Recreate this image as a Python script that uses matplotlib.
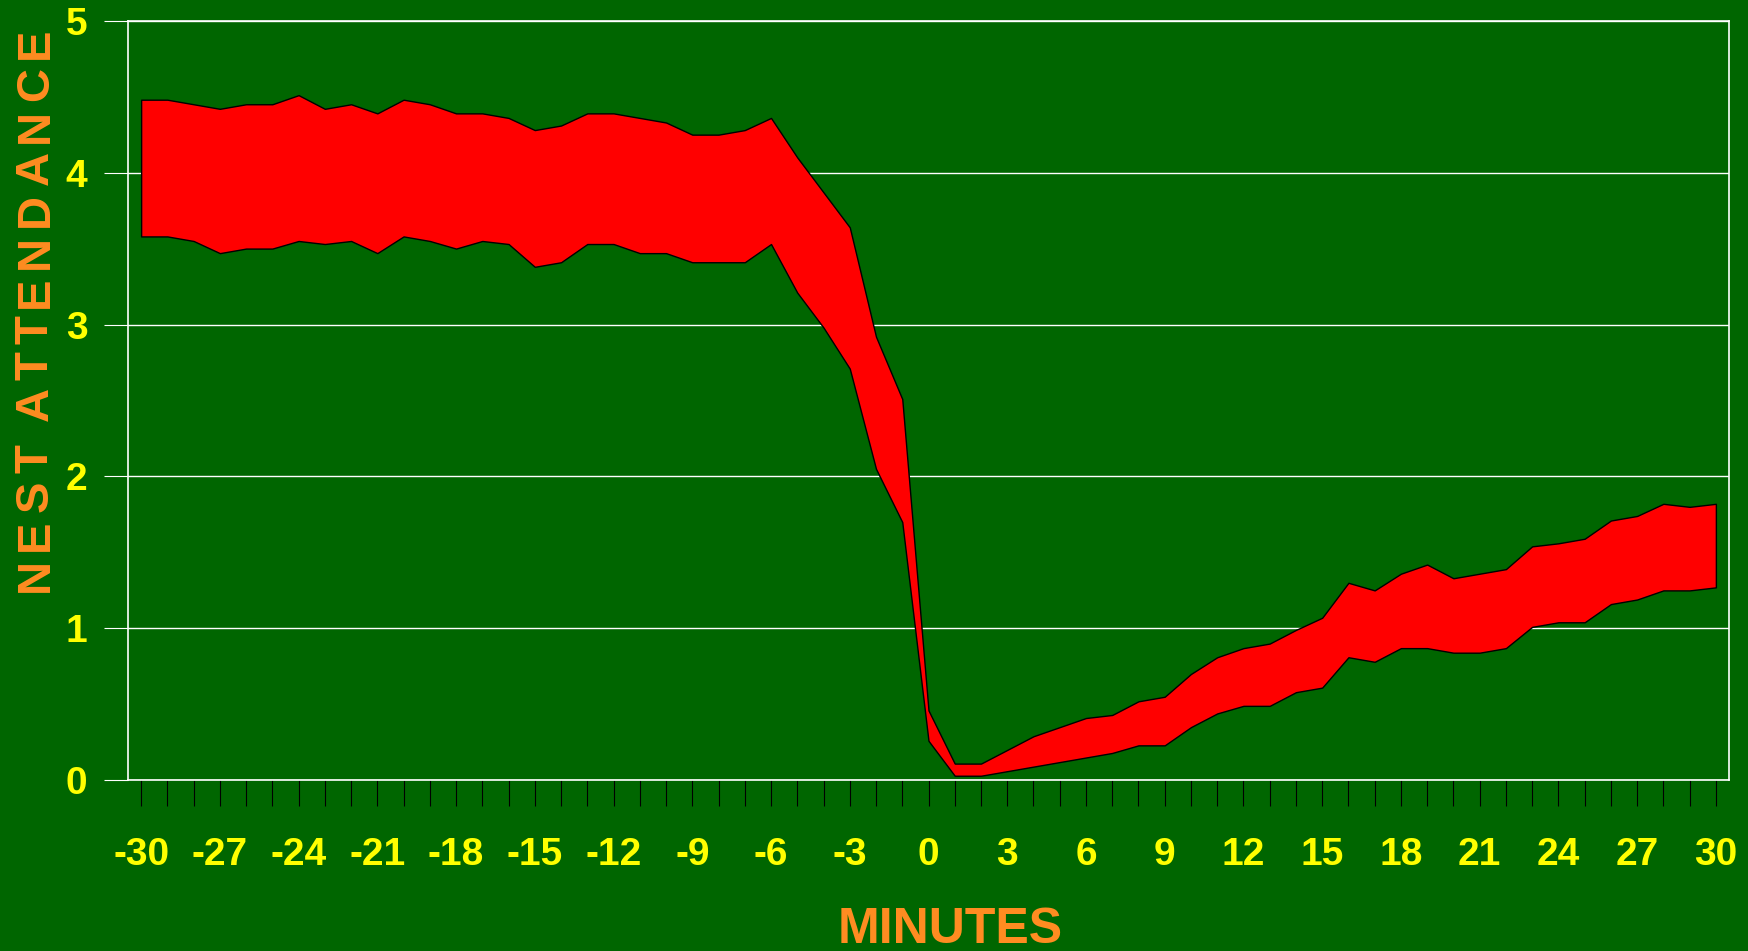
import matplotlib
matplotlib.use("Agg")
import matplotlib.pyplot as plt
from matplotlib import font_manager

# nest attendance band, minutes relative to the event
minutes = list(range(-30, 31))
upper = [4.48, 4.48, 4.45, 4.42, 4.45, 4.45, 4.51, 4.42, 4.45, 4.39,
         4.48, 4.45, 4.39, 4.39, 4.36, 4.28, 4.31, 4.39, 4.39, 4.36,
         4.33, 4.25, 4.25, 4.28, 4.36, 4.10, 3.87, 3.64, 2.92, 2.51,
         0.46, 0.11, 0.11, 0.20, 0.29, 0.35, 0.41, 0.43, 0.52, 0.55,
         0.70, 0.81, 0.87, 0.90, 0.99, 1.07, 1.30, 1.25, 1.36, 1.42,
         1.33, 1.36, 1.39, 1.54, 1.56, 1.59, 1.71, 1.74, 1.82, 1.80, 1.82]
lower = [3.58, 3.58, 3.55, 3.47, 3.50, 3.50, 3.55, 3.53, 3.55, 3.47,
         3.58, 3.55, 3.50, 3.55, 3.53, 3.38, 3.41, 3.53, 3.53, 3.47,
         3.47, 3.41, 3.41, 3.41, 3.53, 3.21, 2.98, 2.71, 2.05, 1.70,
         0.26, 0.03, 0.03, 0.06, 0.09, 0.12, 0.15, 0.18, 0.23, 0.23,
         0.35, 0.44, 0.49, 0.49, 0.58, 0.61, 0.81, 0.78, 0.87, 0.87,
         0.84, 0.84, 0.87, 1.01, 1.04, 1.04, 1.16, 1.19, 1.25, 1.25, 1.27]
x_labels = [str(m) if m % 3 == 0 else "" for m in minutes]
y_ticks = [0, 1, 2, 3, 4, 5]
x_title = "MINUTES"
y_title = "NEST ATTENDANCE"

BG = "#006600"
YELLOW = "#FFFF00"
ORANGE = "#FF8C21"
W, H, DPI = 1748, 951, 100

# a narrow face if there is one, else the regular one a bit smaller
names = {f.name for f in font_manager.fontManager.ttflist}
if "Liberation Sans Narrow" in names:
    narrow, lab_fs, title_fs = "Liberation Sans Narrow", 31, 41
else:
    narrow, lab_fs, title_fs = "Liberation Sans", 28, 36

fig = plt.figure(figsize=(W / DPI, H / DPI), dpi=DPI, facecolor=BG)
ax = fig.add_axes([128 / W, 170.7 / H, 1601 / W, 759.6 / H])
ax.set_facecolor(BG)

ax.fill_between(minutes, lower, upper, facecolor="#FF0000", edgecolor="black",
                linewidth=1.0, zorder=3)

ax.set_xlim(-30.5, 30.5)
ax.set_ylim(0, 5)
ax.set_yticks(y_ticks)
ax.set_xticks(minutes, x_labels)
ax.yaxis.grid(True, color="white", linewidth=1.0)
ax.set_axisbelow(True)
for sp in ax.spines.values():
    sp.set_color("white")
    sp.set_linewidth(1.2)

ax.tick_params(axis="x", direction="out", length=18.7, width=0.8, color="black",
               pad=22, labelsize=lab_fs, labelcolor=YELLOW)
ax.tick_params(axis="y", direction="out", length=17.3, width=0.8, color="white",
               pad=12, labelsize=lab_fs, labelcolor=YELLOW)
plt.setp(ax.get_xticklabels() + ax.get_yticklabels(), family=narrow, weight="bold")

# x title
fig.text(950.5 / W, 1 - 943 / H, x_title, ha="center", va="baseline",
         fontsize=title_fs, color=ORANGE, family=narrow, weight="bold")

# y title, letter-spaced one glyph at a time
fs = 34
fp = font_manager.FontProperties(family="Liberation Sans", weight="bold", size=fs)
font = font_manager.get_font(font_manager.findfont(fp))
font.set_size(fs, DPI)
adv = [font.load_char(ord(c)).linearHoriAdvance / 65536 for c in y_title]
mids = []
cum = 0
for a in adv:
    mids.append(cum + a / 2)
    cum += a
em = fs * DPI / 72
y0 = (H - 590) + (adv[0] - 0.1 * em) / 2
y1 = (H - 30) - (adv[-1] - 0.1 * em) / 2
for c, m in zip(y_title, mids):
    if c == " ":
        continue
    yy = y0 + (m - mids[0]) / (mids[-1] - mids[0]) * (y1 - y0)
    fig.text(47.7 / W, yy / H, c, rotation=90, rotation_mode="anchor",
             ha="center", va="baseline", fontsize=fs, color=ORANGE,
             family="Liberation Sans", weight="bold")

fig.savefig("out.png", dpi=DPI, facecolor=BG)
